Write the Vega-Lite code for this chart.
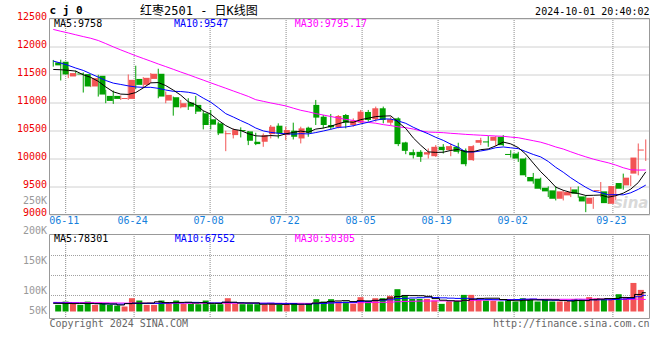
{
"$schema": "https://vega.github.io/schema/vega-lite/v6.json",
"width": 600, "height": 300,
"autosize": {"type": "none"},
"padding": {"left": 49.5, "top": 18.5, "right": 10.5, "bottom": 41.5},
"background": "white",
"config": {"view": {"stroke": null}, "axis": {"labelFont": "DejaVu Sans Mono"}, "text": {"font": "DejaVu Sans Mono", "fontSize": 10, "baseline": "middle"}},
"datasets": {"k": [
{"d":"06-06","i":0,"o":11716,"h":11760,"l":11640,"c":11663,"v":27600,"m5":11590,"m10":11740,"m30":12305,"vm5":34000,"vm10":36000,"vm30":38000},
{"d":"06-07","i":1,"o":11728,"h":11764,"l":11393,"c":11501,"v":41300,"m5":11585,"m10":11704,"m30":12272,"vm5":34000,"vm10":35500,"vm30":37800},
{"d":"06-11","i":2,"o":11465,"h":11615,"l":11435,"c":11525,"v":31900,"m5":11575,"m10":11663,"m30":12242,"vm5":33500,"vm10":35000,"vm30":37600},
{"d":"06-12","i":3,"o":11518,"h":11570,"l":11480,"c":11500,"v":27600,"m5":11560,"m10":11615,"m30":12209,"vm5":33000,"vm10":34500,"vm30":37400},
{"d":"06-13","i":4,"o":11507,"h":11537,"l":11178,"c":11286,"v":41300,"m5":11495,"m10":11573,"m30":12177,"vm5":33900,"vm10":34000,"vm30":37200},
{"d":"06-14","i":5,"o":11286,"h":11453,"l":11274,"c":11435,"v":27600,"m5":11449,"m10":11513,"m30":12147,"vm5":33900,"vm10":33500,"vm30":37000},
{"d":"06-17","i":6,"o":11477,"h":11495,"l":11106,"c":11142,"v":34600,"m5":11378,"m10":11453,"m30":12107,"vm5":32600,"vm10":33000,"vm30":36600},
{"d":"06-18","i":7,"o":11118,"h":11226,"l":10987,"c":11028,"v":27600,"m5":11278,"m10":11393,"m30":12052,"vm5":31700,"vm10":32000,"vm30":36200},
{"d":"06-19","i":8,"o":11118,"h":11214,"l":10975,"c":11064,"v":24900,"m5":11191,"m10":11346,"m30":11994,"vm5":31200,"vm10":31000,"vm30":35800},
{"d":"06-20","i":9,"o":11062,"h":11125,"l":11045,"c":11080,"v":20800,"m5":11150,"m10":11322,"m30":11939,"vm5":27100,"vm10":30500,"vm30":35400},
{"d":"06-21","i":10,"o":11064,"h":11501,"l":11046,"c":11405,"v":55400,"m5":11144,"m10":11297,"m30":11887,"vm5":32700,"vm10":33300,"vm30":35000},
{"d":"06-24","i":11,"o":11421,"h":11657,"l":11237,"c":11315,"v":45700,"m5":11178,"m10":11278,"m30":11835,"vm5":34900,"vm10":33700,"vm30":34900},
{"d":"06-25","i":12,"o":11315,"h":11453,"l":11256,"c":11441,"v":27600,"m5":11261,"m10":11270,"m30":11786,"vm5":34900,"vm10":33300,"vm30":34800},
{"d":"06-26","i":13,"o":11421,"h":11525,"l":11346,"c":11513,"v":27600,"m5":11351,"m10":11271,"m30":11738,"vm5":35400,"vm10":33300,"vm30":34700},
{"d":"06-27","i":14,"o":11513,"h":11603,"l":11076,"c":11106,"v":45700,"m5":11356,"m10":11253,"m30":11688,"vm5":40400,"vm10":33800,"vm30":34600},
{"d":"06-28","i":15,"o":11034,"h":11196,"l":10987,"c":11136,"v":38500,"m5":11302,"m10":11223,"m30":11641,"vm5":37000,"vm10":34800,"vm30":34500},
{"d":"07-01","i":16,"o":11094,"h":11106,"l":10765,"c":10915,"v":45700,"m5":11222,"m10":11200,"m30":11593,"vm5":37000,"vm10":36000,"vm30":34500},
{"d":"07-02","i":17,"o":10915,"h":11046,"l":10897,"c":10987,"v":31900,"m5":11131,"m10":11196,"m30":11544,"vm5":37900,"vm10":36400,"vm30":34500},
{"d":"07-03","i":18,"o":10998,"h":11076,"l":10867,"c":10927,"v":31900,"m5":11014,"m10":11183,"m30":11498,"vm5":38700,"vm10":37100,"vm30":34500},
{"d":"07-04","i":19,"o":10957,"h":11118,"l":10795,"c":10837,"v":30400,"m5":10960,"m10":11158,"m30":11448,"vm5":35700,"vm10":38000,"vm30":34500},
{"d":"07-05","i":20,"o":10807,"h":10855,"l":10520,"c":10598,"v":45700,"m5":10853,"m10":11078,"m30":11400,"vm5":37100,"vm10":37100,"vm30":34500},
{"d":"07-08","i":21,"o":10700,"h":10867,"l":10520,"c":10604,"v":30400,"m5":10791,"m10":11006,"m30":11351,"vm5":34100,"vm10":35500,"vm30":34500},
{"d":"07-09","i":22,"o":10628,"h":10658,"l":10418,"c":10448,"v":30400,"m5":10683,"m10":10907,"m30":11303,"vm5":33800,"vm10":35800,"vm30":34500},
{"d":"07-10","i":23,"o":10434,"h":10496,"l":10131,"c":10452,"v":55400,"m5":10588,"m10":10801,"m30":11255,"vm5":38500,"vm10":38600,"vm30":34500},
{"d":"07-11","i":24,"o":10418,"h":10538,"l":10358,"c":10508,"v":31900,"m5":10522,"m10":10741,"m30":11206,"vm5":38800,"vm10":37200,"vm30":34500},
{"d":"07-12","i":25,"o":10508,"h":10556,"l":10376,"c":10490,"v":30400,"m5":10500,"m10":10677,"m30":11158,"vm5":35700,"vm10":36400,"vm30":34400},
{"d":"07-15","i":26,"o":10484,"h":10490,"l":10239,"c":10317,"v":30400,"m5":10443,"m10":10617,"m30":11109,"vm5":35700,"vm10":34900,"vm30":34400},
{"d":"07-16","i":27,"o":10299,"h":10460,"l":10239,"c":10257,"v":30400,"m5":10405,"m10":10544,"m30":11050,"vm5":35700,"vm10":34700,"vm30":34400},
{"d":"07-17","i":28,"o":10299,"h":10448,"l":10209,"c":10418,"v":27600,"m5":10398,"m10":10493,"m30":11021,"vm5":30100,"vm10":34300,"vm30":34400},
{"d":"07-18","i":29,"o":10436,"h":10598,"l":10358,"c":10568,"v":34600,"m5":10410,"m10":10466,"m30":10992,"vm5":30700,"vm10":34700,"vm30":34400},
{"d":"07-19","i":30,"o":10586,"h":10628,"l":10358,"c":10448,"v":27600,"m5":10402,"m10":10451,"m30":10966,"vm5":30100,"vm10":32900,"vm30":34400},
{"d":"07-22","i":31,"o":10418,"h":10568,"l":10329,"c":10508,"v":27600,"m5":10440,"m10":10441,"m30":10939,"vm5":29600,"vm10":32600,"vm30":34000},
{"d":"07-23","i":32,"o":10496,"h":10640,"l":10340,"c":10388,"v":34600,"m5":10466,"m10":10435,"m30":10899,"vm5":30400,"vm10":33100,"vm30":34100},
{"d":"07-24","i":33,"o":10358,"h":10568,"l":10269,"c":10538,"v":27600,"m5":10490,"m10":10444,"m30":10861,"vm5":30400,"vm10":30300,"vm30":34100},
{"d":"07-25","i":34,"o":10550,"h":10568,"l":10388,"c":10460,"v":34600,"m5":10468,"m10":10439,"m30":10834,"vm5":30400,"vm10":30500,"vm30":33800},
{"d":"07-26","i":35,"o":10957,"h":11046,"l":10598,"c":10730,"v":51300,"m5":10525,"m10":10463,"m30":10802,"vm5":35100,"vm10":32600,"vm30":34600},
{"d":"07-29","i":36,"o":10747,"h":10777,"l":10538,"c":10598,"v":41300,"m5":10543,"m10":10491,"m30":10777,"vm5":37900,"vm10":33700,"vm30":34900},
{"d":"07-30","i":37,"o":10598,"h":10795,"l":10520,"c":10556,"v":51300,"m5":10576,"m10":10521,"m30":10750,"vm5":41200,"vm10":35800,"vm30":35600},
{"d":"07-31","i":38,"o":10556,"h":10777,"l":10538,"c":10759,"v":41300,"m5":10621,"m10":10555,"m30":10723,"vm5":44000,"vm10":37200,"vm30":36200},
{"d":"08-01","i":39,"o":10777,"h":10795,"l":10538,"c":10640,"v":41300,"m5":10657,"m10":10563,"m30":10698,"vm5":45300,"vm10":37900,"vm30":36900},
{"d":"08-02","i":40,"o":10598,"h":10717,"l":10568,"c":10676,"v":31900,"m5":10646,"m10":10585,"m30":10680,"vm5":41400,"vm10":38300,"vm30":36100},
{"d":"08-05","i":41,"o":10640,"h":10867,"l":10628,"c":10837,"v":59600,"m5":10694,"m10":10618,"m30":10659,"vm5":45100,"vm10":41500,"vm30":36600},
{"d":"08-06","i":42,"o":10831,"h":10867,"l":10658,"c":10688,"v":44400,"m5":10720,"m10":10648,"m30":10644,"vm5":43700,"vm10":42500,"vm30":37100},
{"d":"08-07","i":43,"o":10700,"h":10927,"l":10658,"c":10897,"v":55400,"m5":10748,"m10":10684,"m30":10630,"vm5":46500,"vm10":45200,"vm30":38000},
{"d":"08-08","i":44,"o":10897,"h":10927,"l":10628,"c":10688,"v":55400,"m5":10757,"m10":10707,"m30":10605,"vm5":49300,"vm10":47300,"vm30":38400},
{"d":"08-09","i":45,"o":10640,"h":10747,"l":10598,"c":10700,"v":65100,"m5":10762,"m10":10704,"m30":10587,"vm5":56000,"vm10":48700,"vm30":39200},
{"d":"08-12","i":46,"o":10717,"h":10735,"l":10221,"c":10257,"v":92900,"m5":10646,"m10":10670,"m30":10565,"vm5":62600,"vm10":53900,"vm30":40800},
{"d":"08-13","i":47,"o":10287,"h":10299,"l":10077,"c":10137,"v":65100,"m5":10536,"m10":10628,"m30":10551,"vm5":66800,"vm10":55200,"vm30":41900},
{"d":"08-14","i":48,"o":10113,"h":10161,"l":10000,"c":10059,"v":52600,"m5":10368,"m10":10558,"m30":10526,"vm5":66200,"vm10":56400,"vm30":42600},
{"d":"08-15","i":49,"o":10119,"h":10149,"l":9940,"c":10029,"v":52600,"m5":10236,"m10":10497,"m30":10493,"vm5":65700,"vm10":57500,"vm30":43400},
{"d":"08-16","i":50,"o":10071,"h":10179,"l":10000,"c":10113,"v":52600,"m5":10119,"m10":10441,"m30":10472,"vm5":63200,"vm10":59600,"vm30":43600},
{"d":"08-19","i":51,"o":10041,"h":10239,"l":10029,"c":10209,"v":45700,"m5":10109,"m10":10378,"m30":10467,"vm5":53700,"vm10":58200,"vm30":44100},
{"d":"08-20","i":52,"o":10209,"h":10257,"l":10089,"c":10149,"v":31900,"m5":10112,"m10":10324,"m30":10461,"vm5":47100,"vm10":56900,"vm30":44100},
{"d":"08-21","i":53,"o":10149,"h":10269,"l":10041,"c":10221,"v":41600,"m5":10144,"m10":10256,"m30":10450,"vm5":44900,"vm10":55600,"vm30":43700},
{"d":"08-22","i":54,"o":10209,"h":10281,"l":10089,"c":10119,"v":44400,"m5":10162,"m10":10199,"m30":10441,"vm5":43200,"vm10":54500,"vm30":44100},
{"d":"08-23","i":55,"o":10149,"h":10179,"l":9862,"c":9898,"v":69300,"m5":10119,"m10":10119,"m30":10431,"vm5":46600,"vm10":54900,"vm30":45400},
{"d":"08-26","i":56,"o":9970,"h":10239,"l":9958,"c":10221,"v":69300,"m5":10122,"m10":10116,"m30":10423,"vm5":51300,"vm10":52500,"vm30":46700},
{"d":"08-27","i":57,"o":10281,"h":10370,"l":10239,"c":10329,"v":48500,"m5":10158,"m10":10135,"m30":10416,"vm5":54600,"vm10":50900,"vm30":47300},
{"d":"08-28","i":58,"o":10305,"h":10400,"l":10209,"c":10287,"v":45700,"m5":10171,"m10":10158,"m30":10409,"vm5":55400,"vm10":50200,"vm30":47900},
{"d":"08-29","i":59,"o":10317,"h":10400,"l":10221,"c":10388,"v":44400,"m5":10225,"m10":10193,"m30":10402,"vm5":55400,"vm10":49300,"vm30":48200},
{"d":"08-30","i":60,"o":10388,"h":10418,"l":10220,"c":10238,"v":41600,"m5":10293,"m10":10206,"m30":10397,"vm5":49900,"vm10":48200,"vm30":48700},
{"d":"09-02","i":61,"o":10081,"h":10148,"l":10017,"c":10063,"v":51300,"m5":10261,"m10":10191,"m30":10382,"vm5":46300,"vm10":48800,"vm30":49500},
{"d":"09-03","i":62,"o":10089,"h":10119,"l":9939,"c":9999,"v":41600,"m5":10195,"m10":10176,"m30":10371,"vm5":44900,"vm10":49800,"vm30":49700},
{"d":"09-04","i":63,"o":9999,"h":10017,"l":9670,"c":9700,"v":55400,"m5":10078,"m10":10124,"m30":10344,"vm5":46900,"vm10":51200,"vm30":50600},
{"d":"09-05","i":64,"o":9670,"h":9742,"l":9550,"c":9592,"v":51300,"m5":9918,"m10":10072,"m30":10318,"vm5":48200,"vm10":51800,"vm30":51200},
{"d":"09-06","i":65,"o":9640,"h":9658,"l":9443,"c":9460,"v":41600,"m5":9763,"m10":10028,"m30":10291,"vm5":48200,"vm10":49100,"vm30":50900},
{"d":"09-09","i":66,"o":9478,"h":9502,"l":9311,"c":9413,"v":51300,"m5":9633,"m10":9947,"m30":10251,"vm5":48200,"vm10":47300,"vm30":51200},
{"d":"09-10","i":67,"o":9431,"h":9502,"l":9251,"c":9281,"v":41600,"m5":9489,"m10":9842,"m30":10206,"vm5":48200,"vm10":46600,"vm30":50900},
{"d":"09-11","i":68,"o":9281,"h":9431,"l":9251,"c":9413,"v":41600,"m5":9432,"m10":9755,"m30":10169,"vm5":45500,"vm10":46200,"vm30":50900},
{"d":"09-12","i":69,"o":9341,"h":9490,"l":9311,"c":9401,"v":41600,"m5":9394,"m10":9656,"m30":10120,"vm5":43500,"vm10":45900,"vm30":50900},
{"d":"09-13","i":70,"o":9448,"h":9502,"l":9299,"c":9371,"v":52000,"m5":9376,"m10":9569,"m30":10073,"vm5":45600,"vm10":46900,"vm30":51600},
{"d":"09-18","i":71,"o":9323,"h":9341,"l":9042,"c":9233,"v":50000,"m5":9340,"m10":9486,"m30":10030,"vm5":45400,"vm10":46800,"vm30":51300},
{"d":"09-19","i":72,"o":9191,"h":9311,"l":9101,"c":9299,"v":60000,"m5":9343,"m10":9416,"m30":9989,"vm5":49000,"vm10":48600,"vm30":51800},
{"d":"09-20","i":73,"o":9419,"h":9580,"l":9311,"c":9437,"v":55000,"m5":9348,"m10":9390,"m30":9955,"vm5":51700,"vm10":48600,"vm30":51800},
{"d":"09-23","i":74,"o":9413,"h":9413,"l":9191,"c":9203,"v":52000,"m5":9309,"m10":9351,"m30":9923,"vm5":53800,"vm10":48700,"vm30":51700},
{"d":"09-24","i":75,"o":9191,"h":9520,"l":9191,"c":9508,"v":54000,"m5":9336,"m10":9356,"m30":9883,"vm5":54200,"vm10":49900,"vm30":51300},
{"d":"09-25","i":76,"o":9562,"h":9730,"l":9443,"c":9460,"v":72000,"m5":9381,"m10":9351,"m30":9835,"vm5":58600,"vm10":52000,"vm30":50600},
{"d":"09-26","i":77,"o":9520,"h":9700,"l":9508,"c":9658,"v":58000,"m5":9453,"m10":9388,"m30":9799,"vm5":58200,"vm10":53600,"vm30":50400},
{"d":"09-27","i":78,"o":9730,"h":10268,"l":9700,"c":10017,"v":119000,"m5":9569,"m10":9449,"m30":9793,"vm5":71000,"vm10":61400,"vm30":51600},
{"d":"09-30","i":79,"o":10142,"h":10340,"l":9957,"c":10160,"v":90000,"m5":9761,"m10":9525,"m30":9795,"vm5":78300,"vm10":67500,"vm30":50300}
]},
"data": {"name": "k"},
"resolve": {"scale": {"x": "independent", "y": "independent"}, "axis": {"x": "independent", "y": "independent"}},
"layer": [
{"transform": [{"filter": {"field": "d", "oneOf": ["06-11","06-24","07-08","07-22","08-05","08-19","09-02","09-23"]}}],
 "mark": {"type": "rule", "color": "#8c8c8c", "strokeWidth": 1, "strokeDash": [1, 1], "strokeDashOffset": 0.5},
 "encoding": {"x": {"field": "i", "type": "quantitative", "scale": {"domain": [-0.1316, 78.816], "nice": false, "zero": false}, "axis": null},
  "y": {"datum": 12500, "type": "quantitative", "scale": {"domain": [7142.857, 12500], "nice": false, "zero": false}, "axis": null}, "y2": {"datum": 9000}}},
{"transform": [{"filter": {"field": "d", "oneOf": ["06-11","06-24","07-08","07-22","08-05","08-19","09-02","09-23"]}}],
 "mark": {"type": "rule", "color": "#8c8c8c", "strokeWidth": 1, "strokeDash": [1, 1], "strokeDashOffset": 0.5},
 "encoding": {"x": {"field": "i", "type": "quantitative", "scale": {"domain": [-0.1316, 78.816], "nice": false, "zero": false}, "axis": null},
  "y": {"datum": 320833, "type": "quantitative", "scale": {"domain": [-29167, 1220833], "nice": false, "zero": false}, "axis": null}, "y2": {"datum": -29167}}},
{"transform": [{"filter": {"field": "d", "oneOf": ["06-11","06-24","07-08","07-22","08-05","08-19","09-02","09-23"]}}],
 "mark": {"type": "text", "color": "#1580dc", "dy": 6.5, "dx": -1.5, "align": "center", "baseline": "middle", "fontSize": 10, "font": "DejaVu Sans Mono"},
 "encoding": {"x": {"field": "i", "type": "quantitative", "scale": {"domain": [-0.1316, 78.816], "nice": false, "zero": false}, "axis": null},
  "y": {"datum": 9000, "type": "quantitative", "scale": {"domain": [7142.857, 12500], "nice": false, "zero": false}, "axis": null}, "text": {"field": "d"}}},
{"transform": [{"filter": "datum.i == 0"}],
 "mark": {"type": "rule", "color": "#a0a0a0", "strokeWidth": 1, "strokeDash": [1, 1], "strokeDashOffset": 0.5},
 "encoding": {"x": {"datum": -0.5, "type": "quantitative", "scale": {"domain": [-0.5, 79.5], "nice": false, "zero": false}, "axis": null}, "x2": {"datum": 79.5},
  "y": {"datum": 233333, "type": "quantitative", "scale": {"domain": [-29167, 1220833], "nice": false, "zero": false}, "axis": null}}},
{"transform": [{"filter": "datum.i == 0"}],
 "mark": {"type": "rule", "color": "#a0a0a0", "strokeWidth": 1, "strokeDash": [1, 1], "strokeDashOffset": 0.5},
 "encoding": {"x": {"datum": -0.5, "type": "quantitative", "scale": {"domain": [-0.5, 79.5], "nice": false, "zero": false}, "axis": null}, "x2": {"datum": 79.5},
  "y": {"datum": 150000, "type": "quantitative", "scale": {"domain": [-29167, 1220833], "nice": false, "zero": false}, "axis": null}}},
{"transform": [{"filter": "datum.i == 0"}],
 "mark": {"type": "rule", "color": "#a0a0a0", "strokeWidth": 1, "strokeDash": [1, 1], "strokeDashOffset": 0.5},
 "encoding": {"x": {"datum": -0.5, "type": "quantitative", "scale": {"domain": [-0.5, 79.5], "nice": false, "zero": false}, "axis": null}, "x2": {"datum": 79.5},
  "y": {"datum": 66667, "type": "quantitative", "scale": {"domain": [-29167, 1220833], "nice": false, "zero": false}, "axis": null}}},
{"mark": {"type": "rule", "strokeWidth": 1},
 "encoding": {
  "x": {"field": "i", "type": "quantitative", "scale": {"domain": [-0.5, 79.5], "nice": false, "zero": false}, "axis": null},
  "y": {"field": "l", "type": "quantitative", "scale": {"domain": [7142.857, 12500], "nice": false, "zero": false},
        "axis": {"orient": "left", "title": null, "values": [9000, 9500, 10000, 10500, 11000, 11500, 12000, 12500], "format": "d", "domain": false, "ticks": false, "tickSize": 0, "labelPadding": 3, "labelColor": "#ee0000", "labelFont": "DejaVu Sans Mono", "labelFontSize": 10, "labelOffset": -2, "labelOverlap": false, "labelFlush": false, "grid": true, "gridColor": "#a0a0a0", "gridDash": [1, 1], "gridDashOffset": 0.5, "gridWidth": 1}},
  "y2": {"field": "h"},
  "color": {"condition": {"test": "datum.c >= datum.o", "value": "#f25454"}, "value": "#00a000"}}},
{"mark": {"type": "bar", "size": 6, "orient": "vertical"},
 "encoding": {
  "x": {"field": "i", "type": "quantitative", "scale": {"domain": [-0.5, 79.5], "nice": false, "zero": false}, "axis": null},
  "y": {"field": "o", "type": "quantitative", "scale": {"domain": [7142.857, 12500], "nice": false, "zero": false}, "axis": null},
  "y2": {"field": "c"},
  "color": {"condition": {"test": "datum.c >= datum.o", "value": "#f25454"}, "value": "#00a000"}}},
{"mark": {"type": "line", "color": "#ff00ff", "strokeWidth": 1},
 "encoding": {"x": {"field": "i", "type": "quantitative", "scale": {"domain": [-0.5, 79.5], "nice": false, "zero": false}, "axis": null},
  "y": {"field": "m30", "type": "quantitative", "scale": {"domain": [7142.857, 12500], "nice": false, "zero": false}, "axis": null}}},
{"mark": {"type": "line", "color": "#0000ff", "strokeWidth": 1},
 "encoding": {"x": {"field": "i", "type": "quantitative", "scale": {"domain": [-0.5, 79.5], "nice": false, "zero": false}, "axis": null},
  "y": {"field": "m10", "type": "quantitative", "scale": {"domain": [7142.857, 12500], "nice": false, "zero": false}, "axis": null}}},
{"mark": {"type": "line", "color": "#000000", "strokeWidth": 1},
 "encoding": {"x": {"field": "i", "type": "quantitative", "scale": {"domain": [-0.5, 79.5], "nice": false, "zero": false}, "axis": null},
  "y": {"field": "m5", "type": "quantitative", "scale": {"domain": [7142.857, 12500], "nice": false, "zero": false}, "axis": null}}},
{"transform": [{"filter": "datum.i == 0"}],
 "mark": {"type": "rect", "fill": "transparent", "stroke": "#999999", "strokeWidth": 1},
 "encoding": {"x": {"datum": -0.5, "type": "quantitative", "scale": {"domain": [-0.5, 79.5], "nice": false, "zero": false}, "axis": null}, "x2": {"datum": 79.5},
  "y": {"datum": 12500, "type": "quantitative", "scale": {"domain": [7142.857, 12500], "nice": false, "zero": false}, "axis": null}, "y2": {"datum": 9000}}},
{"mark": {"type": "bar", "size": 6, "orient": "vertical"},
 "encoding": {
  "x": {"field": "i", "type": "quantitative", "scale": {"domain": [-0.5, 79.5], "nice": false, "zero": false}, "axis": null},
  "y": {"field": "v", "type": "quantitative", "scale": {"domain": [-29167, 1220833], "nice": false, "zero": false},
        "axis": {"orient": "left", "title": null, "values": [3333, 88333, 211667, 336667, 464583], "labelExpr": "datum.value > 400000 ? '250K' : datum.value > 300000 ? '200K' : datum.value > 150000 ? '150K' : datum.value > 50000 ? '100K' : '50K'", "domain": false, "ticks": false, "tickSize": 0, "grid": false, "labelPadding": 3, "labelColor": "#999999", "labelFont": "DejaVu Sans Mono", "labelFontSize": 10, "labelOverlap": false, "labelFlush": false}},
  "y2": {"datum": 0},
  "color": {"condition": {"test": "datum.c >= datum.o", "value": "#f25454"}, "value": "#00a000"}}},
{"mark": {"type": "line", "color": "#ff00ff", "strokeWidth": 1, "interpolate": "step"},
 "encoding": {"x": {"field": "i", "type": "quantitative", "scale": {"domain": [-0.5, 79.5], "nice": false, "zero": false}, "axis": null},
  "y": {"field": "vm30", "type": "quantitative", "scale": {"domain": [-29167, 1220833], "nice": false, "zero": false}, "axis": null}}},
{"mark": {"type": "line", "color": "#0000ff", "strokeWidth": 1, "interpolate": "step"},
 "encoding": {"x": {"field": "i", "type": "quantitative", "scale": {"domain": [-0.5, 79.5], "nice": false, "zero": false}, "axis": null},
  "y": {"field": "vm10", "type": "quantitative", "scale": {"domain": [-29167, 1220833], "nice": false, "zero": false}, "axis": null}}},
{"mark": {"type": "line", "color": "#000000", "strokeWidth": 1, "interpolate": "step"},
 "encoding": {"x": {"field": "i", "type": "quantitative", "scale": {"domain": [-0.5, 79.5], "nice": false, "zero": false}, "axis": null},
  "y": {"field": "vm5", "type": "quantitative", "scale": {"domain": [-29167, 1220833], "nice": false, "zero": false}, "axis": null}}},
{"transform": [{"filter": "datum.i == 0"}],
 "mark": {"type": "rect", "fill": "transparent", "stroke": "#999999", "strokeWidth": 1},
 "encoding": {"x": {"datum": -0.5, "type": "quantitative", "scale": {"domain": [-0.5, 79.5], "nice": false, "zero": false}, "axis": null}, "x2": {"datum": 79.5},
  "y": {"datum": 320833, "type": "quantitative", "scale": {"domain": [-29167, 1220833], "nice": false, "zero": false}, "axis": null}, "y2": {"datum": -29167}}},
{"transform": [{"filter": "datum.i == 0"}],
 "mark": {"type": "text", "text": "sina", "align": "right", "baseline": "middle", "dx": -1, "dy": -12, "font": "DejaVu Sans", "fontSize": 15, "fontStyle": "italic", "fontWeight": "bold", "color": "#d9d9d9"},
 "encoding": {"x": {"datum": 79.5, "type": "quantitative", "scale": {"domain": [-0.5, 79.5], "nice": false, "zero": false}, "axis": null},
  "y": {"datum": 9000, "type": "quantitative", "scale": {"domain": [7142.857, 12500], "nice": false, "zero": false}, "axis": null}}},
{"transform": [{"filter": "datum.i == 0"}],
 "mark": {"type": "text", "text": "MA5:9758", "align": "left", "baseline": "middle", "dy": 5, "color": "#000000", "fontSize": 10, "font": "DejaVu Sans Mono"},
 "encoding": {"x": {"datum": 0.1, "type": "quantitative", "scale": {"domain": [-0.5, 79.5], "nice": false, "zero": false}, "axis": null},
  "y": {"datum": 12500, "type": "quantitative", "scale": {"domain": [7142.857, 12500], "nice": false, "zero": false}, "axis": null}}},
{"transform": [{"filter": "datum.i == 0"}],
 "mark": {"type": "text", "text": "MA10:9547", "align": "left", "baseline": "middle", "dy": 5, "color": "#0000ff", "fontSize": 10, "font": "DejaVu Sans Mono"},
 "encoding": {"x": {"datum": 16.1, "type": "quantitative", "scale": {"domain": [-0.5, 79.5], "nice": false, "zero": false}, "axis": null},
  "y": {"datum": 12500, "type": "quantitative", "scale": {"domain": [7142.857, 12500], "nice": false, "zero": false}, "axis": null}}},
{"transform": [{"filter": "datum.i == 0"}],
 "mark": {"type": "text", "text": "MA30:9795.17", "align": "left", "baseline": "middle", "dy": 5, "color": "#ff00ff", "fontSize": 10, "font": "DejaVu Sans Mono"},
 "encoding": {"x": {"datum": 32.2, "type": "quantitative", "scale": {"domain": [-0.5, 79.5], "nice": false, "zero": false}, "axis": null},
  "y": {"datum": 12500, "type": "quantitative", "scale": {"domain": [7142.857, 12500], "nice": false, "zero": false}, "axis": null}}},
{"transform": [{"filter": "datum.i == 0"}],
 "mark": {"type": "text", "text": "c j 0", "align": "left", "baseline": "middle", "dy": -7.5, "color": "#000000", "fontSize": 11, "fontWeight": "bold", "font": "DejaVu Sans Mono"},
 "encoding": {"x": {"datum": -0.5, "type": "quantitative", "scale": {"domain": [-0.5, 79.5], "nice": false, "zero": false}, "axis": null},
  "y": {"datum": 12500, "type": "quantitative", "scale": {"domain": [7142.857, 12500], "nice": false, "zero": false}, "axis": null}}},
{"transform": [{"filter": "datum.i == 0"}],
 "mark": {"type": "text", "text": "红枣2501 - 日K线图", "align": "left", "baseline": "middle", "dy": -8, "color": "#000000", "fontSize": 12, "font": "DejaVu Sans Mono, Noto Sans CJK SC"},
 "encoding": {"x": {"datum": 11.57, "type": "quantitative", "scale": {"domain": [-0.5, 79.5], "nice": false, "zero": false}, "axis": null},
  "y": {"datum": 12500, "type": "quantitative", "scale": {"domain": [7142.857, 12500], "nice": false, "zero": false}, "axis": null}}},
{"transform": [{"filter": "datum.i == 0"}],
 "mark": {"type": "text", "text": "2024-10-01 20:40:02", "align": "right", "baseline": "middle", "dy": -7, "color": "#000000", "fontSize": 10, "font": "DejaVu Sans Mono"},
 "encoding": {"x": {"datum": 79.5, "type": "quantitative", "scale": {"domain": [-0.5, 79.5], "nice": false, "zero": false}, "axis": null},
  "y": {"datum": 12500, "type": "quantitative", "scale": {"domain": [7142.857, 12500], "nice": false, "zero": false}, "axis": null}}},
{"transform": [{"filter": "datum.i == 0"}],
 "mark": {"type": "text", "text": "MA5:78301", "align": "left", "baseline": "middle", "dy": 4, "color": "#000000", "fontSize": 10, "font": "DejaVu Sans Mono"},
 "encoding": {"x": {"datum": 0.1, "type": "quantitative", "scale": {"domain": [-0.5, 79.5], "nice": false, "zero": false}, "axis": null},
  "y": {"datum": 320833, "type": "quantitative", "scale": {"domain": [-29167, 1220833], "nice": false, "zero": false}, "axis": null}}},
{"transform": [{"filter": "datum.i == 0"}],
 "mark": {"type": "text", "text": "MA10:67552", "align": "left", "baseline": "middle", "dy": 4, "color": "#0000ff", "fontSize": 10, "font": "DejaVu Sans Mono"},
 "encoding": {"x": {"datum": 16.2, "type": "quantitative", "scale": {"domain": [-0.5, 79.5], "nice": false, "zero": false}, "axis": null},
  "y": {"datum": 320833, "type": "quantitative", "scale": {"domain": [-29167, 1220833], "nice": false, "zero": false}, "axis": null}}},
{"transform": [{"filter": "datum.i == 0"}],
 "mark": {"type": "text", "text": "MA30:50305", "align": "left", "baseline": "middle", "dy": 4, "color": "#ff00ff", "fontSize": 10, "font": "DejaVu Sans Mono"},
 "encoding": {"x": {"datum": 32.2, "type": "quantitative", "scale": {"domain": [-0.5, 79.5], "nice": false, "zero": false}, "axis": null},
  "y": {"datum": 320833, "type": "quantitative", "scale": {"domain": [-29167, 1220833], "nice": false, "zero": false}, "axis": null}}},
{"transform": [{"filter": "datum.i == 0"}],
 "mark": {"type": "text", "text": "Copyright 2024 SINA.COM", "align": "left", "baseline": "middle", "dy": 5.5, "color": "#666666", "fontSize": 10, "font": "DejaVu Sans Mono"},
 "encoding": {"x": {"datum": -0.5, "type": "quantitative", "scale": {"domain": [-0.5, 79.5], "nice": false, "zero": false}, "axis": null},
  "y": {"datum": -29167, "type": "quantitative", "scale": {"domain": [-29167, 1220833], "nice": false, "zero": false}, "axis": null}}},
{"transform": [{"filter": "datum.i == 0"}],
 "mark": {"type": "text", "text": "http://finance.sina.com.cn", "align": "right", "baseline": "middle", "dy": 5.5, "color": "#666666", "fontSize": 10, "font": "DejaVu Sans Mono"},
 "encoding": {"x": {"datum": 79.5, "type": "quantitative", "scale": {"domain": [-0.5, 79.5], "nice": false, "zero": false}, "axis": null},
  "y": {"datum": -29167, "type": "quantitative", "scale": {"domain": [-29167, 1220833], "nice": false, "zero": false}, "axis": null}}}
]
}
